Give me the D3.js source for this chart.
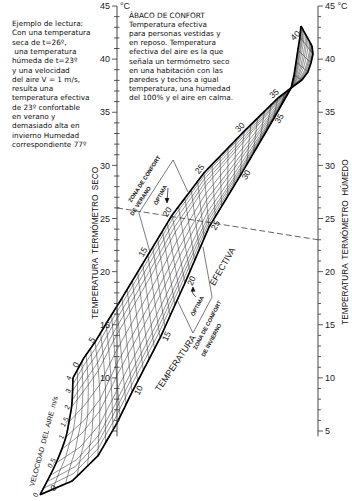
<!DOCTYPE html>
<html><head><meta charset="utf-8">
<script src="https://cdn.jsdelivr.net/npm/d3@7/dist/d3.min.js"></script>
<style>
html,body{margin:0;padding:0;background:#fff;}
svg{display:block;}
.note{font-family:"DejaVu Sans",Verdana,sans-serif;font-size:7.3px;fill:#111;white-space:pre;}
.ax{font-family:"Liberation Sans",Arial,sans-serif;font-size:9px;fill:#222;}
.ttl{font-family:"Liberation Sans",Arial,sans-serif;font-size:8.2px;fill:#111;white-space:pre;}
.lab{font-family:"Liberation Sans",Arial,sans-serif;font-size:8.5px;fill:#111;}
.sm{font-family:"Liberation Sans",Arial,sans-serif;font-size:5.6px;font-weight:bold;fill:#111;}
</style></head><body>
<svg width="352" height="501"></svg>
<script>
// ---------------- data ----------------
const dryLabels = [10,15,20,25,30,35,40,45];
const wetLabels = [5,10,15,20,25,30,35,40,45];
// effective-temperature keys along the two boundaries (u = position across, T = level in °C)
const etKeys = [0, 2.5, 5, 7.5, 10, 15, 20, 25, 30, 35, 37, 38, 39, 40, 41, 42];
const topU = [-0.219,-0.164,-0.109,-0.040,0.025,0.154,0.274,0.433,0.632,0.801,0.866,0.920,0.950,0.965,0.975,0.970];
const topT = [10.0,11.9,13.38,15.54,17.52,21.56,25.31,29.3,33.2,36.34,37.28,38.04,38.79,39.64,40.48,41.24];
const botU = [-0.383,-0.224,-0.095,0.0,0.075,0.214,0.338,0.458,0.612,0.776,0.866,0.881,0.891,0.900,0.910,0.915];
const botT = [-1.0,0.29,2.65,5.75,8.67,13.75,18.93,24.2,29.0,34.27,37.28,38.51,39.73,40.86,42.08,43.12];
// air velocity lines (m/s) and their relative place between v=0 and v=max
const velocities = [0,0.1,0.2,0.3,0.5,0.75,1,1.5,2,2.5,3,3.5,4];
const velFrac    = [0,0.07,0.13,0.19,0.28,0.40,0.50,0.62,0.75,0.82,0.89,0.95,1.0];
// ET = 0 curve (left edge) per velocity
const leftV = [0,0.5,1,1.5,2,2.5,3,3.5,4];
const leftU = [-0.383,-0.303,-0.254,-0.239,-0.226,-0.223,-0.221,-0.220,-0.219];
const leftT = [-1.0,1.99,4.44,5.85,7.26,7.92,8.77,9.38,10.0];
const etLabelsTop = [0,5,15,20,25,30,35];
const etLabelsBot = [0,10,15,20,25,30,35];
const etLabelsWedge = [40];
const velLabels = [0,0.5,1,1.5,2,3,4];
// comfort zones (u,T)
const summerZone = [[0.164,21.85],[0.109,25.52],[0.279,30.51],[0.353,27.5]];
const winterZone = [[0.299,17.33],[0.378,14.22],[0.473,17.61],[0.428,22.32]];
const example = {dry:26, wet:23};
const notesLeft = ["Ejemplo de lectura:","Con una temperatura","seca de t=26º,"," una temperatura","húmeda de t=23º","y una velocidad","del aire V = 1 m/s,","resulta una","temperatura efectiva","de 23º confortable","en verano y","demasiado alta en","invierno Humedad","correspondiente 77º"];
const notesRight = ["ÁBACO DE CONFORT","Temperatura efectiva","para personas vestidas y","en reposo. Temperatura","efectiva del aire es la que","señala un termómetro seco","en una habitación con las","paredes y techos a igual","temperatura, una humedad","del 100% y el aire en calma."];

// ---------------- scales ----------------
const svg = d3.select("svg");
const X = d3.scaleLinear().domain([0,1]).range([117,318]);
const Y = d3.scaleLinear().domain([5,45]).range([431,6]);
const sTU = d3.scaleLinear().domain(etKeys).range(topU);
const sTT = d3.scaleLinear().domain(etKeys).range(topT);
const sBU = d3.scaleLinear().domain(etKeys).range(botU);
const sBT = d3.scaleLinear().domain(etKeys).range(botT);
const sG  = d3.scaleLinear().domain(velocities).range(velFrac);
const sLU = d3.scaleLinear().domain(leftV).range(leftU);
const sLT = d3.scaleLinear().domain(leftV).range(leftT);
const sW  = d3.scaleLinear().domain([0,8]).range([1,0]).clamp(true);
const vMax = d3.max(velocities);

function P(e, v){
  const g = sG(v);
  const du = sLU(v) - (sBU(0) + g*(sTU(0)-sBU(0)));
  const dt = sLT(v) - (sBT(0) + g*(sTT(0)-sBT(0)));
  const w = sW(e);
  const u = sBU(e) + g*(sTU(e)-sBU(e)) + w*du;
  const t = sBT(e) + g*(sTT(e)-sBT(e)) + w*dt;
  return [X(u), Y(t)];
}
const line = d3.line();
const smooth = d3.line().curve(d3.curveCatmullRom.alpha(0.5));
const eMax = d3.max(etKeys);
const etSteps = d3.range(0, eMax+0.001, 0.25);

const g0 = svg.append("g");
d3.range(0, eMax+1).forEach(e=>{
  g0.append("path").attr("d", smooth(velocities.map(v=>P(e,v))))
    .attr("fill","none").attr("stroke","#222").attr("stroke-width",0.5);
});
velocities.forEach(v=>{
  g0.append("path").attr("d", line(etSteps.map(e=>P(e,v))))
    .attr("fill","none").attr("stroke","#222").attr("stroke-width",0.5);
});
[0, vMax].forEach(v=>{
  g0.append("path").attr("d", line(etSteps.map(e=>P(e,v))))
    .attr("fill","none").attr("stroke","#000").attr("stroke-width",1.7).attr("stroke-linejoin","round");
});
const vFine = d3.range(0, vMax+0.001, 0.05);
[0, eMax].forEach(e=>{
  g0.append("path").attr("d", smooth(leftV.map(v=>P(e,v))))
    .attr("fill","none").attr("stroke","#000").attr("stroke-width",1.7).attr("stroke-linejoin","round");
});
[summerZone, winterZone].forEach(z=>{
  g0.append("path").attr("d", line(z.map(p=>[X(p[0]),Y(p[1])])))
    .attr("fill","none").attr("stroke","#222").attr("stroke-width",0.6);
});
g0.append("line").attr("x1",X(0)).attr("y1",Y(example.dry)).attr("x2",X(1)).attr("y2",Y(example.wet))
  .attr("stroke","#222").attr("stroke-width",0.7).attr("stroke-dasharray","6,3");

function tangent(e, v){
  const a = P(e-0.5, v), b = P(e+0.5, v);
  const dx=b[0]-a[0], dy=b[1]-a[1], L=Math.hypot(dx,dy);
  return [dx/L, dy/L];
}
function putLabel(txt, p, t, side, dist, shiftY){
  const n = [t[1]*side, -t[0]*side];
  const ang = Math.atan2(t[1], t[0])*180/Math.PI;
  svg.append("text").attr("class","lab")
    .attr("transform",`translate(${p[0]+n[0]*dist},${p[1]+n[1]*dist+(shiftY||0)}) rotate(${ang})`)
    .attr("text-anchor","middle").attr("dy","0.35em").text(txt);
}
etLabelsTop.forEach(e=>{
  const ea = e===0 ? 1.4 : e;
  putLabel(e, P(ea,vMax), tangent(Math.max(ea,0.5),vMax), 1, e<10?4:6);
});
etLabelsBot.forEach(e=>{
  if(e===0){ putLabel(e, P(1,0), [0.8,-0.6], -1, 1, -2); return; }
  putLabel(e, P(e,0), tangent(e,0), -1, 7, -5);
});
etLabelsWedge.forEach(e=>putLabel(e, P(e+0.8,0), [0.7,-0.7], 1, 6));
velLabels.forEach(v=>{
  const p=P(0,v);
  svg.append("text").attr("class","lab").style("font-size","7px")
    .attr("transform",`translate(${p[0]-4.5},${p[1]}) rotate(-60)`)
    .attr("text-anchor","middle").attr("dy","0.35em").text(v);
});

function rtext(txt, x, y, ang, cls, size){
  const t = svg.append("text").attr("class",cls)
    .attr("transform",`translate(${x},${y}) rotate(${ang})`).attr("text-anchor","middle").text(txt);
  if(size) t.style("font-size",size+"px");
  return t;
}
rtext("ZONA DE CONFORT", 146, 180, -57, "sm");
rtext("DE VERANO", 142, 202, -57, "sm");
rtext("ÓPTIMA", 162, 196, -62, "sm");
rtext("ÓPTIMA", 199, 307, -62, "sm");
rtext("ZONA DE CONFORT", 209, 326, -62, "sm");
rtext("DE INVIERNO", 213, 341, -62, "sm");
rtext("TEMPERATURA", 178, 365, -56, "lab", 8.8);
rtext("EFECTIVA", 225, 268, -60, "lab", 8.8);
rtext("VELOCIDAD  DEL  AIRE  m/s", 46, 442, -75, "lab", 7).style("white-space","pre");
const arr = svg.append("g").attr("stroke","#111").attr("stroke-width",0.7).attr("fill","none");
arr.append("path").attr("d","M168,188 L167,202");
arr.append("path").attr("d","M165,198 L167,203 L169,198").attr("fill","#111");
arr.append("path").attr("d","M196,297 Q191,293 193,289");
arr.append("path").attr("d","M191,291.5 L193,287 L195,291.5").attr("fill","#111");

function drawAxis(xpos, side, labels){
  const ax = svg.append("g");
  ax.append("line").attr("x1",xpos).attr("x2",xpos).attr("y1",Y(45)).attr("y2",Y(4.5)).attr("stroke","#333").attr("stroke-width",0.9);
  Y.ticks(40).forEach(t=>{
    const major = t%5===0;
    ax.append("line").attr("x1",xpos + (side<0 && !major ? 2.5 : 0)).attr("x2",xpos+side*(major?5:3))
      .attr("y1",Y(t)).attr("y2",Y(t)).attr("stroke","#333").attr("stroke-width",0.8);
  });
  labels.forEach(t=>{
    ax.append("text").attr("class","ax").attr("x",xpos+side*7).attr("y",Y(t)).attr("dy","0.35em")
      .attr("text-anchor", side<0?"end":"start").text(t===45&&side>0? "45 °C" : t);
  });
  if(side<0) ax.append("text").attr("class","ax").attr("x",xpos+3).attr("y",Y(45)).attr("dy","0.35em").text("°C");
}
drawAxis(X(0), -1, dryLabels);
drawAxis(X(1), 1, wetLabels);
svg.append("text").attr("class","ttl").attr("transform",`translate(97.5,243) rotate(-90)`).attr("text-anchor","middle").text("TEMPERATURA  TERMÓMETRO  SECO");
svg.append("text").attr("class","ttl").attr("transform",`translate(348,242) rotate(-90)`).attr("text-anchor","middle").text("TEMPERATURA  TERMÓMETRO  HÚMEDO");

notesLeft.forEach((s,i)=>svg.append("text").attr("class","note").attr("x",12).attr("y",26+i*9.3).text(s));
notesRight.forEach((s,i)=>svg.append("text").attr("class","note").attr("x",129).attr("y",18+i*9.1).text(s));
</script></body></html>
